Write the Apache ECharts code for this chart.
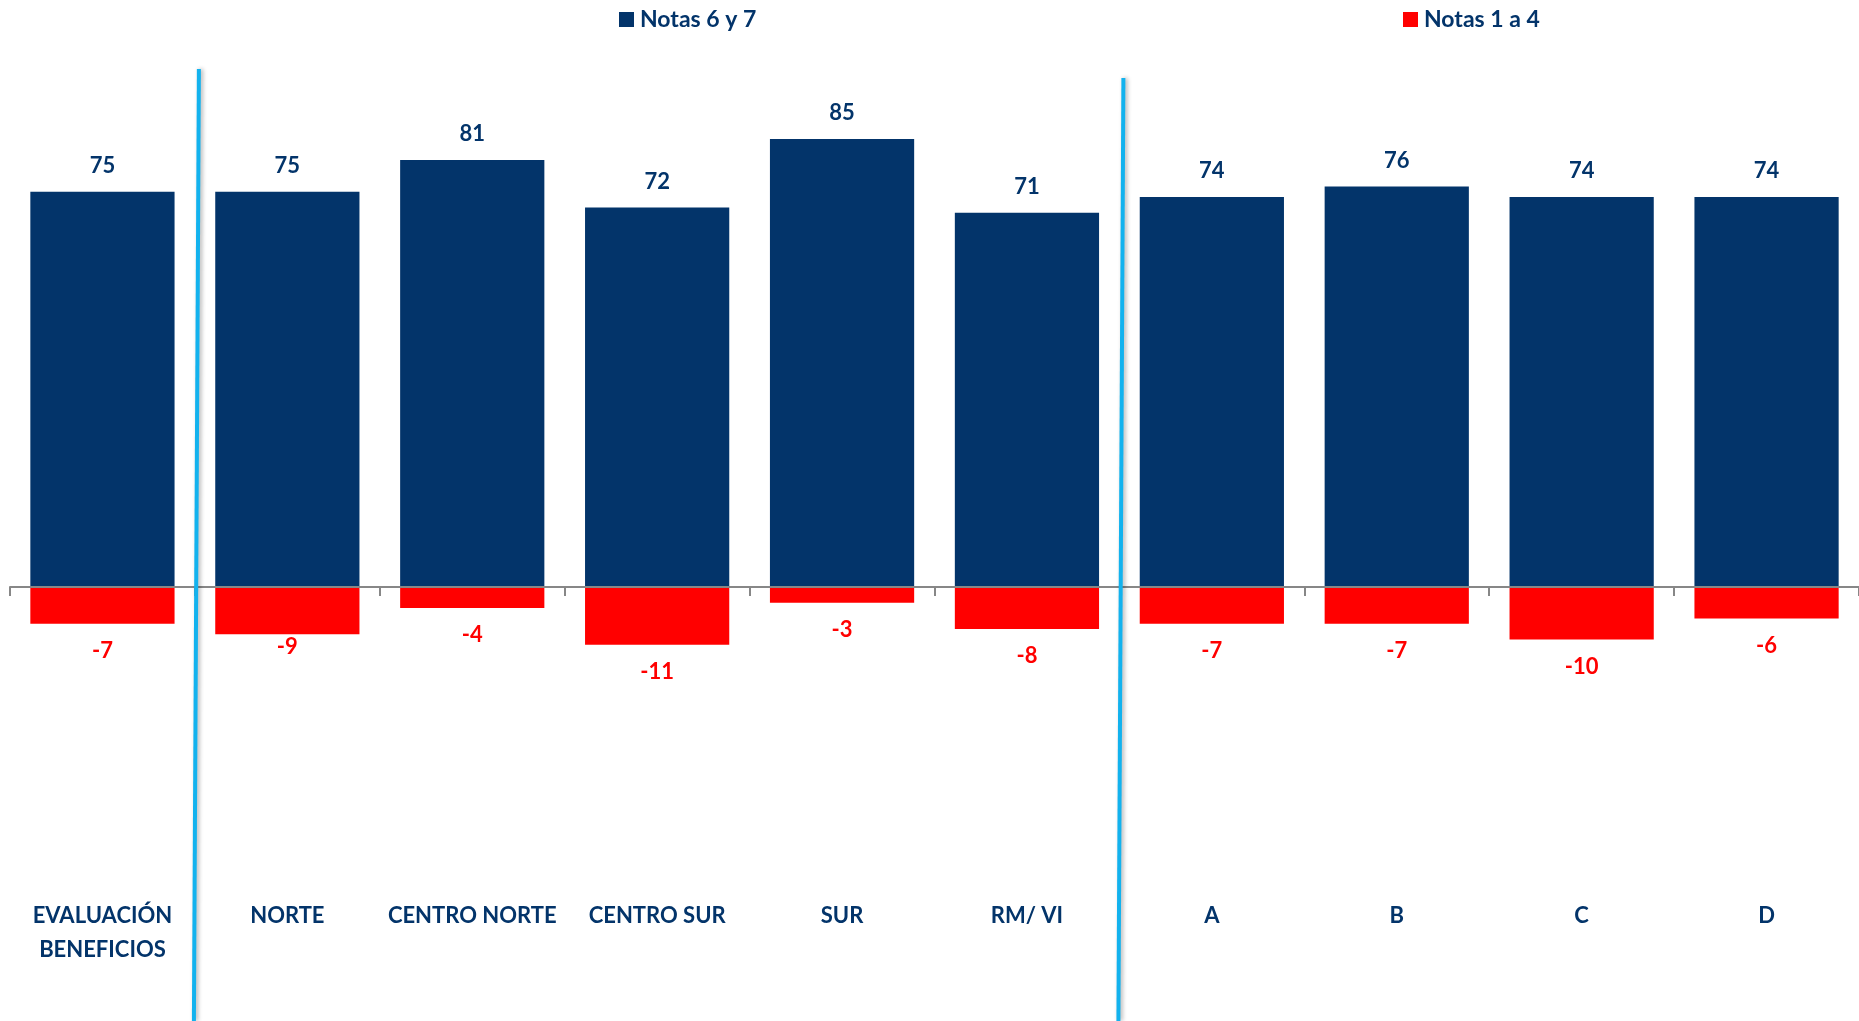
<!DOCTYPE html>
<html>
<head>
<meta charset="utf-8">
<script src="https://cdn.jsdelivr.net/npm/echarts@6/dist/echarts.min.js"></script>
<style>
  html, body { margin: 0; padding: 0; background: #ffffff; }
  #chart { width: 1859px; height: 1021px; }
</style>
</head>
<body>
<div id="chart"></div>
<script>
// Share of grades per group (percent)
const categories = ['EVALUACIÓN\nBENEFICIOS', 'NORTE', 'CENTRO NORTE', 'CENTRO SUR', 'SUR', 'RM/ VI', 'A', 'B', 'C', 'D'];
const notas6y7 = [75, 75, 81, 72, 85, 71, 74, 76, 74, 74];
const notas1a4 = [-7, -9, -4, -11, -3, -8, -7, -7, -10, -6];
const seriesNames = ['Notas 6 y 7', 'Notas 1 a 4'];
// Divider positions: between these pairs of category indexes
const groupBreaks = [[0, 1], [5, 6]];

const NAVY = '#03346A';
const RED = '#FF0000';
const FONT = 'Lato';

const labelText = {
  fontFamily: FONT,
  fontWeight: 'bold',
  fontSize: 22
};

const legendCommon = {
  top: 8,
  padding: 0,
  itemWidth: 15, itemHeight: 15, icon: 'rect',
  textStyle: { fontFamily: FONT, fontWeight: 'bold', fontSize: 23, color: NAVY, padding: [0, 0, 0, 1] }
};

const option = {
  animation: false,
  backgroundColor: '#ffffff',
  legend: [
    Object.assign({ data: [seriesNames[0]], left: 619 }, legendCommon),
    Object.assign({ data: [seriesNames[1]], left: 1403 }, legendCommon)
  ],
  grid: { left: 10, right: 0, top: 60, bottom: 118, containLabel: false },
  xAxis: [
    {
      // category names along the bottom edge
      type: 'category',
      data: categories,
      position: 'bottom',
      axisLine: { show: false, onZero: false },
      axisTick: { show: false },
      axisLabel: {
        interval: 0,
        margin: -4,
        lineHeight: 34,
        color: NAVY,
        fontFamily: FONT,
        fontWeight: 'bold',
        fontSize: 22
      }
    },
    {
      // baseline through zero with boundary ticks
      type: 'category',
      data: categories,
      position: 'bottom',
      z: 3,
      axisLine: { show: true, onZero: true, lineStyle: { color: '#878787', width: 2 } },
      axisTick: { show: true, length: 9, lineStyle: { color: '#878787', width: 2 } },
      axisLabel: { show: false }
    }
  ],
  yAxis: {
    type: 'value',
    min: -60,
    max: 100,
    show: false,
    splitLine: { show: false }
  },
  series: [
    {
      name: seriesNames[0],
      type: 'bar',
      xAxisIndex: 0,
      data: notas6y7,
      barCategoryGap: '22%',
      barGap: '-100%',
      itemStyle: { color: NAVY },
      label: Object.assign({ show: true, position: 'top', distance: 15, color: NAVY }, labelText)
    },
    {
      name: seriesNames[1],
      type: 'bar',
      xAxisIndex: 0,
      data: notas1a4.map((v, i) => i === 1 ? { value: v, label: { distance: 2 } } : v),
      barCategoryGap: '22%',
      barGap: '-100%',
      itemStyle: { color: RED },
      label: Object.assign({ show: true, position: 'bottom', distance: 16, color: RED }, labelText)
    }
  ]
};

const chart = echarts.init(document.getElementById('chart'), null, { renderer: 'canvas' });
chart.setOption(option);

// Light-blue dividers separating the overall, regional and A–D groups
const dividerTops = [69, 78];
const chartHeight = 1021;
const dividers = groupBreaks.map(([a, b], k) => {
  const xa = chart.convertToPixel({ xAxisIndex: 0 }, categories[a]);
  const xb = chart.convertToPixel({ xAxisIndex: 0 }, categories[b]);
  const mid = (xa + xb) / 2;
  return {
    type: 'line',
    z: 10,
    shape: { x1: mid + 4, y1: dividerTops[k], x2: mid - 1, y2: chartHeight },
    style: {
      stroke: '#12B2EE',
      lineWidth: 4,
      shadowBlur: 4,
      shadowOffsetX: 2,
      shadowColor: 'rgba(0,0,0,0.3)'
    }
  };
});
chart.setOption({ graphic: dividers });
</script>
</body>
</html>
